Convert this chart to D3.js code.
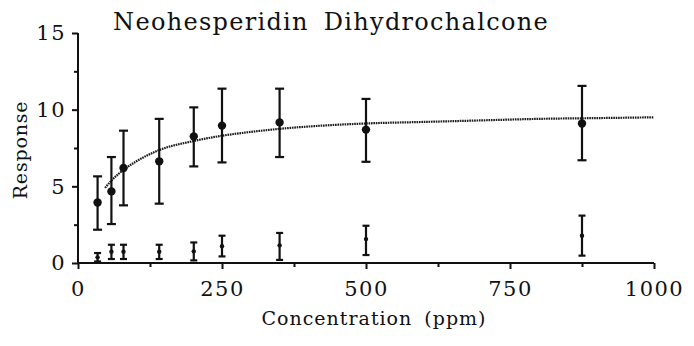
<!DOCTYPE html>
<html>
<head>
<meta charset="utf-8">
<script src="https://cdn.jsdelivr.net/npm/d3@7/dist/d3.min.js"></script>
<style>
  html, body { margin: 0; padding: 0; background: #fff; }
  svg { display: block; }
  text { font-family: "DejaVu Serif", "Liberation Serif", serif; fill: #111; }
</style>
</head>
<body>
<svg id="chart" width="694" height="346"></svg>
<script>
// Concentration levels (ppm)
const concentration = [34, 58, 79, 141, 201, 250, 350, 500, 875];

// Sweetener response: mean with upper / lower error limits
const responseMean  = [3.95, 4.67, 6.2, 6.63, 8.26, 8.96, 9.17, 8.7, 9.1];
const responseHigh  = [5.65, 6.91, 8.63, 9.4, 10.15, 11.37, 11.37, 10.7, 11.55];
const responseLow   = [2.17, 2.54, 3.76, 3.87, 6.3, 6.56, 6.91, 6.6, 6.7];

// Second (low) response series with its error limits
const lowMean = [0.37, 0.74, 0.74, 0.74, 0.76, 1.09, 1.15, 1.56, 1.78];
const lowHigh = [0.65, 1.19, 1.19, 1.19, 1.34, 1.78, 1.96, 2.43, 3.09];
const lowLow  = [0.1, 0.26, 0.26, 0.26, 0.17, 0.43, 0.2, 0.52, 0.48];

// Fitted dose-response curve
const fitConc  = [47, 60, 80, 100, 140, 200, 250, 300, 350, 400, 500, 600, 700, 800, 900, 1000];
const fitValue = [4.9, 5.45, 6.1, 6.6, 7.35, 7.95, 8.3, 8.55, 8.75, 8.9, 9.1, 9.2, 9.3, 9.4, 9.45, 9.5];

// Axis ticks
const xMajorTicks = [0, 250, 500, 750, 1000];
const xMinorTicks = [125, 375, 625, 875];
const yMajorTicks = [0, 5, 10, 15];
const yMinorTicks = [2.5, 7.5, 12.5];

const titleText = "Neohesperidin Dihydrochalcone";
const xLabel = "Concentration (ppm)";
const yLabel = "Response";

const svg = d3.select("#chart");
const x = d3.scaleLinear().domain([0, 1000]).range([78, 654]);
const y = d3.scaleLinear().domain([0, 15]).range([263, 33]);

const ink = "#111";

// Axes
const xAxis = svg.append("g").attr("transform", `translate(0,${y(0)})`)
  .call(d3.axisBottom(x).tickValues(xMajorTicks).tickSize(6).tickPadding(12).tickFormat(d3.format("d")));
const xMinor = svg.append("g").attr("transform", `translate(0,${y(0)})`)
  .call(d3.axisBottom(x).tickValues(xMinorTicks).tickSize(4).tickFormat(""));
const yAxis = svg.append("g").attr("transform", `translate(${x(0)},0)`)
  .call(d3.axisLeft(y).tickValues(yMajorTicks).tickSize(6).tickPadding(6).tickFormat(d3.format("d")));
const yMinor = svg.append("g").attr("transform", `translate(${x(0)},0)`)
  .call(d3.axisLeft(y).tickValues(yMinorTicks).tickSize(4).tickFormat(""));

[xAxis, xMinor, yAxis, yMinor].forEach(g => {
  g.selectAll(".domain").attr("stroke", ink).attr("stroke-width", 2);
  g.selectAll(".tick line").attr("stroke", ink).attr("stroke-width", 2);
  g.selectAll(".tick text")
    .attr("font-size", 21)
    .attr("font-family", "DejaVu Serif")
    .attr("letter-spacing", 1.5)
    .attr("fill", ink);
});
xMinor.select(".domain").remove();
yMinor.select(".domain").remove();
// axis domain paths without outer ticks
xAxis.select(".domain").attr("d", `M${x(0)},0H${x(1000)}`);
yAxis.select(".domain").attr("d", `M0,${y(0)}V${y(15)}`);

// Fitted curve
const line = d3.line().x((d, i) => x(fitConc[i])).y(d => y(d)).curve(d3.curveMonotoneX);
svg.append("path")
  .datum(fitValue)
  .attr("d", line)
  .attr("fill", "none")
  .attr("stroke", "#1a1a1a")
  .attr("stroke-width", 2.2)
  .attr("stroke-dasharray", "1.6,0.8");

// Error bars helper
function errorBars(means, highs, lows, cap, radius) {
  const g = svg.append("g");
  const rows = concentration.map((c, i) => ({ c, m: means[i], h: highs[i], l: lows[i] }));
  const sel = g.selectAll("g").data(rows).join("g");
  sel.append("line")
    .attr("x1", d => x(d.c)).attr("x2", d => x(d.c))
    .attr("y1", d => y(d.h)).attr("y2", d => y(d.l))
    .attr("stroke", ink).attr("stroke-width", 2.2);
  sel.append("line")
    .attr("x1", d => x(d.c) - cap).attr("x2", d => x(d.c) + cap)
    .attr("y1", d => y(d.h)).attr("y2", d => y(d.h))
    .attr("stroke", ink).attr("stroke-width", 2.2);
  sel.append("line")
    .attr("x1", d => x(d.c) - cap).attr("x2", d => x(d.c) + cap)
    .attr("y1", d => y(d.l)).attr("y2", d => y(d.l))
    .attr("stroke", ink).attr("stroke-width", 2.2);
  sel.append("circle")
    .attr("cx", d => x(d.c)).attr("cy", d => y(d.m))
    .attr("r", radius).attr("fill", ink);
}

errorBars(responseMean, responseHigh, responseLow, 4.5, 4.2);
errorBars(lowMean, lowHigh, lowLow, 3.5, 2.2);

// Title and axis labels
svg.append("text")
  .attr("x", 331).attr("y", 30)
  .attr("text-anchor", "middle")
  .attr("font-size", 24)
  .attr("letter-spacing", 1.3)
  .attr("word-spacing", 6)
  .text(titleText);

svg.append("text")
  .attr("x", 374).attr("y", 325)
  .attr("text-anchor", "middle")
  .attr("font-size", 19)
  .attr("letter-spacing", 1)
  .attr("word-spacing", 5)
  .text(xLabel);

svg.append("text")
  .attr("transform", `translate(27,150) rotate(-90)`)
  .attr("text-anchor", "middle")
  .attr("font-size", 19)
  .attr("letter-spacing", 0.8)
  .text(yLabel);
</script>
</body>
</html>
